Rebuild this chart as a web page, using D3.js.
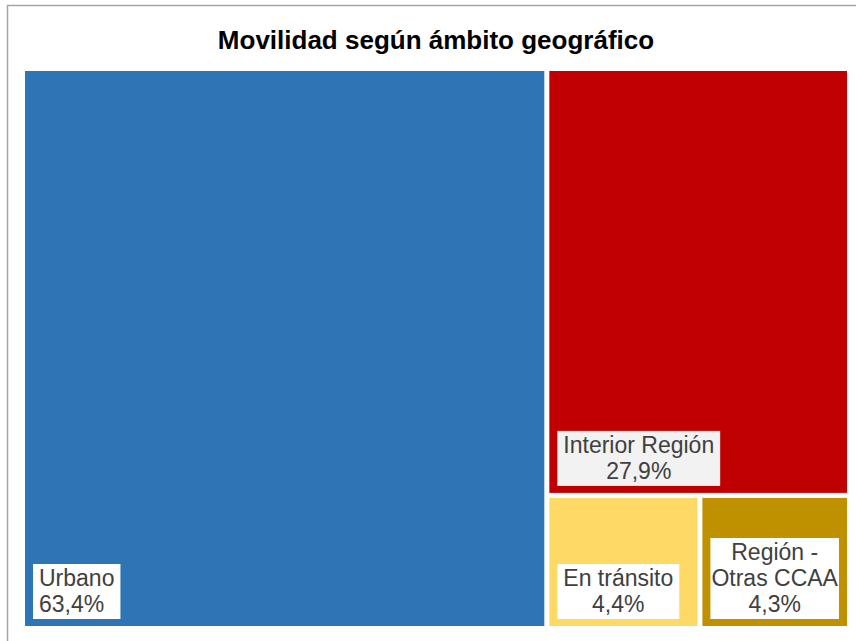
<!DOCTYPE html>
<html>
<head>
<meta charset="utf-8">
<script src="https://cdn.jsdelivr.net/npm/d3@7"></script>
<style>
  body { margin: 0; background: #fff; }
  text { font-family: "Liberation Sans", Arial, sans-serif; }
</style>
</head>
<body>
<div id="chart"></div>
<script>
var categories = ["Urbano", "Interior Región", "En tránsito", "Región - Otras CCAA"];
var shares = [63.4, 27.9, 4.4, 4.3];
var colors = ["#2E75B6", "#C00000", "#FFD966", "#BF9000"];
var labelAlign = ["start", "middle", "middle", "middle"];
var labelFill = ["#ffffff", "#f2f2f2", "#ffffff", "#ffffff"];

var svgWidth = 856;
var svgHeight = 641;

var area = { left: 25, top: 71, right: 847, bottom: 626 };

var svg = d3.select("#chart")
  .append("svg")
  .attr("width", svgWidth)
  .attr("height", svgHeight);

// chart frame (runs off the right and bottom edges)
svg.append("rect")
  .attr("x", 7.5)
  .attr("y", 5.5)
  .attr("width", 900)
  .attr("height", 700)
  .attr("fill", "#fff")
  .attr("stroke", "#a6a6a6")
  .attr("stroke-width", 1.5);

svg.append("text")
  .attr("x", 436)
  .attr("y", 49)
  .attr("text-anchor", "middle")
  .attr("font-size", "26px")
  .attr("font-weight", "bold")
  .attr("fill", "#000")
  .text("Movilidad según ámbito geográfico");

var data = categories.map(function(c, i) {
  return { name: c, value: shares[i], color: colors[i], align: labelAlign[i], box: labelFill[i] };
});

var root = d3.hierarchy({ children: data })
  .sum(d => d.value || 0)
  .sort((a, b) => b.value - a.value);

d3.treemap()
  .tile(d3.treemapSquarify)
  .size([area.right - area.left, area.bottom - area.top])
  .paddingInner(5)(root);

var fmt = function(v) { return v.toFixed(1).replace(".", ",") + "%"; };

var cells = svg.append("g")
  .attr("transform", `translate(${area.left}, ${area.top})`)
  .selectAll("g")
  .data(root.leaves())
  .enter()
  .append("g")
  .attr("transform", d => `translate(${d.x0}, ${d.y0})`);

cells.append("rect")
  .attr("width", d => d.x1 - d.x0)
  .attr("height", d => d.y1 - d.y0)
  .attr("fill", d => d.data.color);

var fontSize = 23;
var lineH = 26;
var measure = svg.append("text").attr("font-size", fontSize + "px").attr("opacity", 0);
function textWidth(s) {
  measure.text(s);
  return measure.node().getComputedTextLength();
}

cells.each(function(d) {
  var g = d3.select(this);
  var tileW = d.x1 - d.x0;
  var maxW = tileW - 16;
  // wrap words greedily
  var words = d.data.name.split(" ");
  var lines = [];
  var cur = words[0];
  for (var i = 1; i < words.length; i++) {
    var test = cur + " " + words[i];
    if (textWidth(test) > tileW - 10) {
      lines.push(cur);
      cur = words[i];
    } else {
      cur = test;
    }
  }
  lines.push(cur);
  lines.push(fmt(d.data.value));

  var tw = d3.max(lines, textWidth);
  var boxW = Math.min(tw + 12, maxW);
  var boxH = lines.length * lineH + 3;
  var bx = 8;
  var by = (d.y1 - d.y0) - 7 - boxH;

  g.append("rect")
    .attr("x", bx)
    .attr("y", by)
    .attr("width", boxW)
    .attr("height", boxH)
    .attr("fill", d.data.box);

  var tx = d.data.align === "start" ? bx + 6 : bx + boxW / 2;
  g.selectAll("text.lbl")
    .data(lines)
    .enter()
    .append("text")
    .attr("class", "lbl")
    .attr("x", tx)
    .attr("y", (l, i) => by + 22 + i * lineH)
    .attr("text-anchor", d.data.align)
    .attr("font-size", fontSize + "px")
    .attr("fill", "#404040")
    .text(l => l);
});

measure.remove();
</script>
</body>
</html>
